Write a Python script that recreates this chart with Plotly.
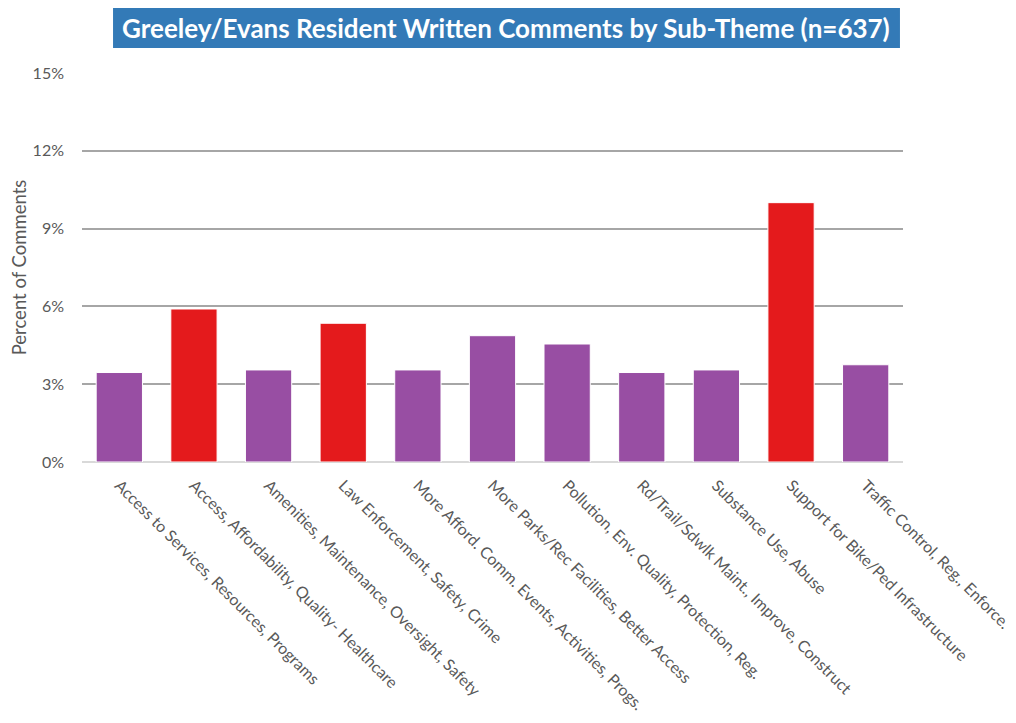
import plotly.graph_objects as go

categories = [
    "Access to Services, Resources, Programs",
    "Access, Affordability, Quality- Healthcare",
    "Amenities, Maintenance, Oversight, Safety",
    "Law Enforcement, Safety, Crime",
    "More Afford. Comm. Events, Activities, Progs.",
    "More Parks/Rec Facilities, Better Access",
    "Pollution, Env. Quality, Protection, Reg.",
    "Rd/Trail/Sdwlk Maint., Improve, Construct",
    "Substance Use, Abuse",
    "Support for Bike/Ped Infrastructure",
    "Traffic Control, Reg., Enforce.",
]
percent = [3.45, 5.9, 3.55, 5.35, 3.55, 4.87, 4.55, 3.45, 3.55, 10.0, 3.75]
highlight = [False, True, False, True, False, False, False, False, False, True, False]
y_ticks = [0, 3, 6, 9, 12, 15]
y_ticklabels = ["0%", "3%", "6%", "9%", "12%", "15%"]
title_text = "Greeley/Evans Resident Written Comments by Sub-Theme (n=637)"

PURPLE = "#984EA3"
RED = "#E41A1C"
colors = [RED if h else PURPLE for h in highlight]

FONT = "Lato"

fig = go.Figure(
    go.Bar(
        x=categories,
        y=percent,
        marker=dict(color=colors, line=dict(color="#ffffff", width=1)),
        hoverinfo="x+y",
    )
)

fig.update_layout(
    width=1016,
    height=715,
    paper_bgcolor="white",
    plot_bgcolor="white",
    margin=dict(l=74, r=121, t=65, b=261),
    bargap=0.38,
    showlegend=False,
    font=dict(family=FONT, color="#595959"),
)

fig.update_yaxes(
    range=[0, 15],
    tickvals=y_ticks,
    ticktext=y_ticklabels,
    showgrid=True,
    gridcolor="#A6A6A6",
    gridwidth=2,
    zeroline=True,
    zerolinecolor="#D9D9D9",
    zerolinewidth=2,
    showline=False,
    ticks="",
    automargin=False,
    tickfont=dict(size=16, color="#595959", family=FONT),
    ticklabelstandoff=17,
    title=dict(text="Percent of Comments", font=dict(size=18.5, color="#595959", family=FONT), standoff=6),
)
fig.update_xaxes(
    tickangle=45,
    tickfont=dict(size=16, color="#595959", family=FONT),
    showline=False,
    ticks="",
    automargin=False,
    ticklabelstandoff=10,
)

fig.add_shape(
    type="rect", xref="paper", yref="paper",
    x0=0.0378, x1=0.9963, y0=1.0643, y1=1.167,
    fillcolor="#337AB7", line=dict(width=0), layer="above",
)
fig.add_annotation(
    text="<b>" + title_text + "</b>",
    xref="paper", yref="paper",
    x=0.517, y=1.1157, xanchor="center", yanchor="middle",
    showarrow=False,
    font=dict(size=26, color="white", family=FONT),
)

fig.write_html("out.html")
